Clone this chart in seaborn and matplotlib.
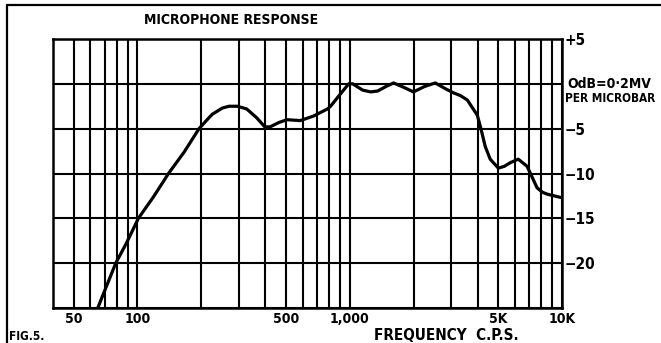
import matplotlib
matplotlib.use("Agg")
import matplotlib.pyplot as plt
import seaborn as sns
import pandas as pd
from matplotlib.lines import Line2D

# Measured response of the microphone (frequency in c.p.s., level in dB)
freq_hz = [65, 79, 89, 101, 119, 140, 166, 195, 211, 225, 251, 270, 296, 327,
           365, 398, 421, 465, 507, 584, 674, 786, 812, 906, 989, 1033, 1150,
           1255, 1354, 1480, 1609, 1800, 1997, 2250, 2530, 2800, 3077, 3315,
           3580, 3990, 4150, 4350, 4590, 5010, 5350, 5700, 6220, 6850, 7230,
           7630, 8100, 8510, 9580, 10000]
level_db = [-25, -20, -17.7, -15, -12.6, -10, -7.6, -5, -4.1, -3.4, -2.7, -2.5,
            -2.5, -2.8, -3.8, -4.8, -4.8, -4.3, -4.0, -4.1, -3.6, -2.8, -2.5,
            -1.1, 0, 0, -0.7, -0.9, -0.8, -0.3, 0.1, -0.4, -0.9, -0.3, 0.1,
            -0.5, -1.0, -1.3, -1.8, -3.5, -5.0, -7.0, -8.4, -9.4, -9.2, -8.8,
            -8.4, -9.2, -10.4, -11.6, -12.1, -12.3, -12.6, -12.7]

# Log-paper grid lines and the ones that carry a label
grid_freqs = [50, 60, 70, 80, 90, 100, 200, 300, 400, 500, 600, 700, 800, 900,
              1000, 2000, 3000, 4000, 5000, 6000, 7000, 8000, 9000, 10000]
freq_labels = {50: "50", 100: "100", 500: "500", 1000: "1,000",
               5000: "5K", 10000: "10K"}
db_ticks = [-25, -20, -15, -10, -5, 0, 5]
db_labels = ["", "\u221220", "\u221215", "\u221210", "\u22125", "", "+5"]

sns.set_theme(style="white")
plt.rcParams["font.family"] = ["DejaVu Sans"]
plt.rcParams["font.stretch"] = "condensed"
plt.rcParams["font.weight"] = "bold"
plt.rcParams["text.color"] = "black"
plt.rcParams["xtick.color"] = "black"
plt.rcParams["ytick.color"] = "black"
plt.rcParams["xtick.labelcolor"] = "black"
plt.rcParams["ytick.labelcolor"] = "black"

fig = plt.figure(figsize=(6.61, 3.43), dpi=100)
ax = fig.add_axes([53 / 661, 35 / 343, 509 / 661, 269 / 343])

df = pd.DataFrame({"freq": freq_hz, "db": level_db})
sns.lineplot(data=df, x="freq", y="db", ax=ax, color="black", linewidth=2.3,
             solid_capstyle="round", solid_joinstyle="round")

ax.set_xscale("log")
ax.set_xlim(40, 10000)
ax.set_ylim(-25, 5)

ax.set_xticks(grid_freqs)
ax.set_xticklabels([freq_labels.get(f, "") for f in grid_freqs])
ax.xaxis.set_minor_locator(matplotlib.ticker.NullLocator())
ax.set_yticks(db_ticks)
ax.set_yticklabels(db_labels)
ax.yaxis.tick_right()

ax.grid(True, which="major", color="black", linewidth=1.5)
ax.tick_params(axis="x", length=0, pad=3, labelsize=10)
ax.tick_params(axis="y", length=0, pad=2, labelsize=11)
for lab in ax.get_xticklabels() + ax.get_yticklabels():
    lab.set_fontweight("bold")
    lab.set_fontstretch("condensed")
    lab.set_color("black")
for sp in ax.spines.values():
    sp.set_visible(True)
    sp.set_color("black")
    sp.set_linewidth(1.8)
ax.set_xlabel("")
ax.set_ylabel("")

# Reference level note beside the 0 dB line
ax.text(1.01, 5 / 6, "OdB=0\u00b72MV", transform=ax.transAxes,
        ha="left", va="center", fontsize=10, fontweight="bold",
        fontstretch="condensed", color="black")
ax.text(1.005, 0.778, "PER MICROBAR", transform=ax.transAxes,
        ha="left", va="center", fontsize=8.5, fontweight="bold",
        fontstretch="condensed", color="black")

fig.text(231 / 661, 1 - 20 / 343, "MICROPHONE RESPONSE", ha="center",
         va="center", fontsize=10, fontweight="bold",
         fontstretch="condensed", color="black")
fig.text(446 / 661, 1 - 336 / 343, "FREQUENCY  C.P.S.", ha="center",
         va="center", fontsize=11, fontweight="bold",
         fontstretch="condensed", color="black")
fig.text(9 / 661, 1 - 337 / 343, "FIG.5.", ha="left", va="center",
         fontsize=8.5, fontweight="bold", fontstretch="condensed",
         color="black")

# Page border along the top and left
fig.add_artist(Line2D([7 / 661, 1.0], [1 - 5 / 343, 1 - 5 / 343],
                      transform=fig.transFigure, color="black", linewidth=1.6))
fig.add_artist(Line2D([7 / 661, 7 / 661], [1 - 5 / 343, 0.0],
                      transform=fig.transFigure, color="black", linewidth=1.6))

fig.savefig("out.png", dpi=100, facecolor="white")
